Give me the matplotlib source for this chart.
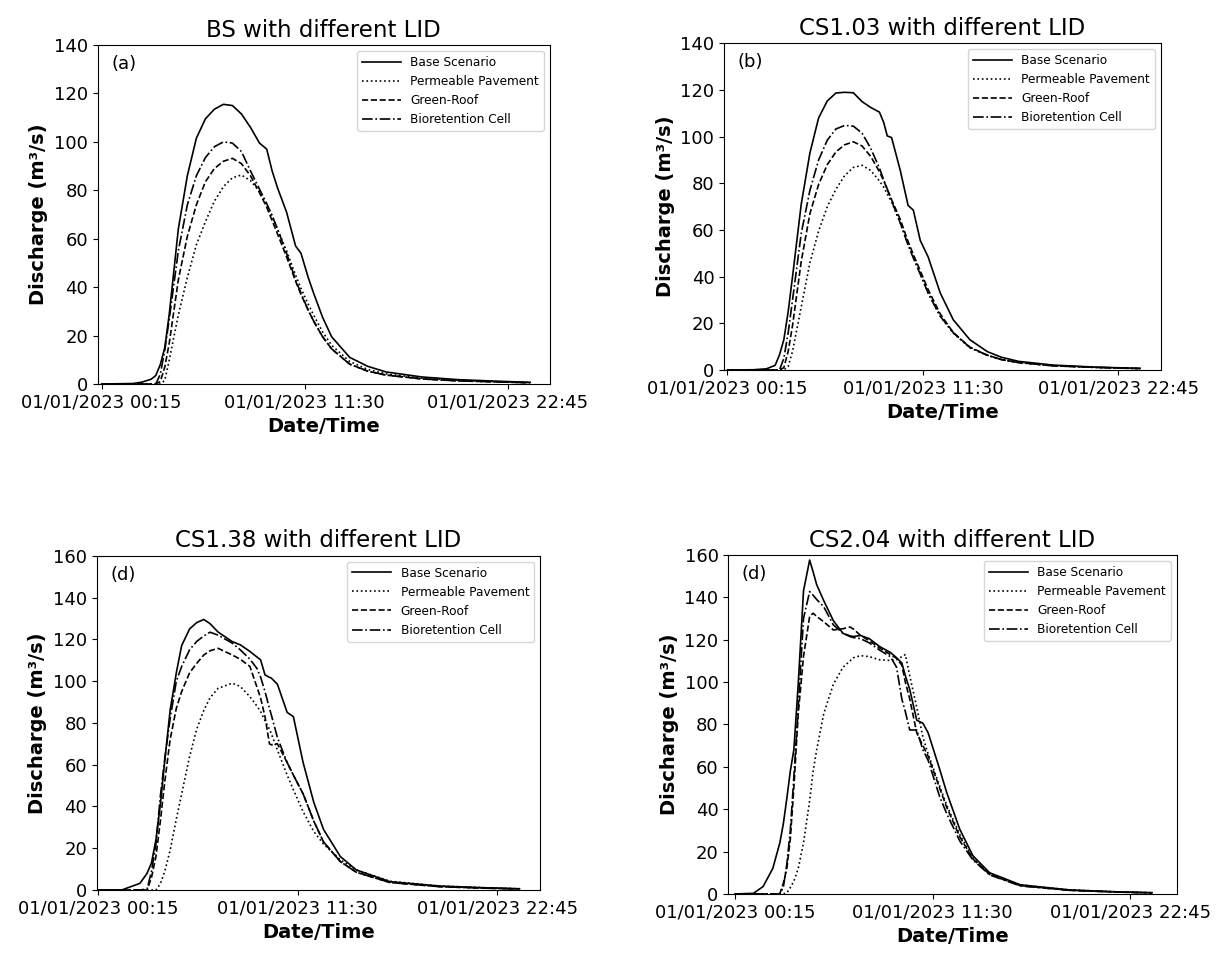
import matplotlib
matplotlib.use("Agg")
import matplotlib.pyplot as plt
import numpy as np

# time in hours from midnight, 01/01/2023
hours_bs = [0.25, 2.0, 2.5, 3.0, 3.25, 3.5, 3.75, 4.0, 4.5, 5.0, 5.5, 6.0, 6.5, 7.0, 7.5, 8.0, 8.5,
            9.0, 9.4, 9.7, 10.0, 10.5, 11.0, 11.3, 11.7, 12.0, 12.5, 13.0, 14.0, 15.0, 16.0, 18.0,
            20.0, 22.0, 24.0]
bs_base = [0, 0.2, 0.8, 2, 3.5, 8, 15, 29, 64, 86, 101.5, 109.5, 113.5, 115.5, 115, 111.5, 106,
           99.5, 97, 88, 81, 71, 57, 54, 44, 37.5, 27.5, 19.5, 11, 7.3, 5, 2.9, 1.8, 1.2, 0.7]
bs_perm = [0, 0, 0, 0, 0, 0, 1.5, 10, 28.5, 44, 57.5, 67, 75.5, 81.5, 85.2, 86.3, 84,
           79.5, 74, 69.5, 64, 55, 45, 39.5, 33, 28.5, 21.5, 16, 9.3, 6, 4.2, 2.4, 1.5, 1.0, 0.6]
bs_green = [0, 0, 0, 0, 0, 1, 7, 17, 43, 61, 74, 83.5, 89, 92, 93.2, 91, 86,
            79, 73, 67.5, 62, 52.5, 42.5, 37, 30.5, 26, 19.5, 14.5, 8.2, 5.3, 3.7, 2.1, 1.3, 0.9, 0.5]
bs_bio = [0, 0, 0, 0, 0, 4, 14, 27, 55, 74, 86, 93.5, 98, 100, 99.5, 96, 88,
          80.5, 74.5, 69.5, 64, 54, 43, 37.5, 30.5, 26, 19.5, 14.5, 8.2, 5.3, 3.7, 2.1, 1.3, 0.9, 0.5]

hours_cs103 = [0.25, 1.75, 2.5, 3.0, 3.25, 3.5, 3.75, 4.0, 4.5, 5.0, 5.5, 6.0, 6.5, 7.0, 7.5, 8.0,
               8.5, 9.0, 9.25, 9.45, 9.7, 10.2, 10.65, 10.95, 11.35, 11.8, 12.5, 13.25, 14.2, 15.2,
               16.0, 17.0, 19.0, 21.5, 24.0]
cs103_base = [0, 0.1, 0.5, 2, 6.5, 13, 25, 40, 71, 93, 108, 115.3, 118.7, 119, 118.8, 115,
              112.5, 110.5, 106, 100.3, 99.6, 85.5, 70.5, 68.5, 55.5, 48.5, 33, 21.5, 13, 7.9,
              5.5, 3.7, 2.1, 1.2, 0.7]
cs103_perm = [0, 0, 0, 0, 0, 0, 1.5, 8, 27, 46, 59.5, 70, 77.5, 83.3, 86.8, 87.7,
              85.5, 81, 78.3, 75.5, 72, 63, 54, 48.5, 41.5, 33, 23, 15.8, 9.5, 6.3,
              4.5, 3.2, 1.8, 1.1, 0.6]
cs103_green = [0, 0, 0, 0, 0, 1, 8, 19, 46.5, 67, 79.5, 88, 93.5, 96.5, 97.8, 96,
               91.5, 85, 81, 77.5, 73, 64.5, 55, 49.5, 42.5, 34.5, 24, 16, 9.8, 6.4,
               4.5, 3.2, 1.8, 1.1, 0.6]
cs103_bio = [0, 0, 0, 0, 0, 5, 16, 30, 58.5, 77, 90, 98.5, 103.3, 104.8, 104.5, 101.5,
             95, 86.5, 81.5, 77.5, 72.5, 63, 53.5, 48, 41, 33, 23, 16, 9.7, 6.3,
             4.5, 3.2, 1.8, 1.1, 0.6]

hours_cs138 = [0.25, 1.6, 2.6, 3.0, 3.25, 3.5, 3.75, 4.0, 4.3, 4.65, 4.95, 5.4, 5.8, 6.2, 6.55,
               7.0, 7.8, 8.25, 8.8, 9.2, 9.4, 9.65, 9.9, 10.0, 10.35, 10.9, 11.25, 11.8, 12.4,
               12.95, 13.9, 14.8, 16.7, 19.5, 22.0, 24.0]
cs138_base = [0, 0.1, 3.2, 8, 13, 24, 41, 62, 86, 104, 117, 125, 128, 129.5, 127.5,
              123.5, 118.9, 117.4, 114.2, 111.5, 110.2, 103, 101.8, 101.5, 98.5, 85, 83, 61, 42,
              29, 16, 9.6, 4, 1.9, 1.1, 0.6]
cs138_perm = [0, 0, 0, 0, 0, 0, 3, 9, 19, 34, 46, 64, 77, 86, 92,
              96.5, 99, 97.5, 92.5, 88, 85.5, 81, 77, 75, 67, 55, 48, 37.5, 28,
              22, 14.4, 9.6, 4.2, 1.9, 1.1, 0.6]
cs138_green = [0, 0, 0, 0, 6, 16, 33, 52, 72, 87, 95, 104, 108.5, 112.5, 114.5,
               115.7, 112.5, 110.5, 107, 97, 92, 83, 70, 69.5, 70, 61, 55, 46, 33,
               23, 13.6, 8.5, 3.6, 1.6, 0.9, 0.5]
cs138_bio = [0, 0, 0, 0.5, 9, 22, 45, 63, 82, 100, 107, 115, 119, 121.6, 123.4,
             122, 118.2, 115, 110.5, 106, 102, 95, 87, 84, 73, 61, 55, 46, 33,
             23, 13.6, 8.5, 3.6, 1.6, 0.9, 0.5]

hours_cs204 = [0.25, 1.3, 1.85, 2.4, 2.8, 3.0, 3.2, 3.4, 3.6, 3.85, 4.15, 4.5, 4.7, 4.9, 5.3,
               5.85, 6.4, 6.8, 7.0, 7.4, 7.9, 8.5, 9.1, 9.45, 9.75, 9.95, 10.2, 10.6, 10.95,
               11.25, 11.9, 12.3, 13.05, 13.8, 14.75, 16.5, 19.3, 22.0, 24.0]
cs204_base = [0, 0.3, 3.5, 12, 24, 33, 45, 58, 68, 99, 143, 157.6, 152, 146, 138.5,
              129, 123, 121.8, 121.5, 122, 120.5, 116.7, 114, 111.5, 109, 103, 96.5, 82, 80.6,
              76, 59, 48, 30.5, 18, 10, 4.3, 1.9, 1.0, 0.6]
cs204_perm = [0, 0, 0, 0, 0, 0, 0.5, 3, 6, 12, 24, 44, 58, 68, 85,
              99, 107, 110, 111.5, 112.5, 112, 110.5, 110.2, 110.5, 112, 113, 103, 88, 74,
              66, 51, 42, 28, 17, 9.5, 4.3, 1.9, 1.0, 0.6]
cs204_green = [0, 0, 0, 0, 0, 5, 12, 26, 50, 85, 112, 131, 132.5, 131, 128.5,
               124.6, 125.2, 126, 125, 122, 119.5, 116, 113, 111.2, 108, 100, 92, 76, 70,
               65, 50, 41, 27, 16.5, 9.2, 3.9, 1.7, 0.9, 0.5]
cs204_bio = [0, 0, 0, 0, 0, 3, 14, 30, 55, 88, 130, 142.7, 141, 139, 135.6,
             127, 123, 121.5, 121, 120.5, 118.5, 115, 112, 107, 92, 86, 77.4, 77.4, 68,
             63, 46, 38, 25, 16, 9, 3.8, 1.7, 0.9, 0.5]

series_names = ['Base Scenario', 'Permeable Pavement', 'Green-Roof', 'Bioretention Cell']
line_styles = ['-', ':', '--', '-.']
tick_hours = [0.25, 11.5, 22.75]
tick_labels = ['01/01/2023 00:15', '01/01/2023 11:30', '01/01/2023 22:45']

panels = [
    dict(title='BS with different LID', tag='(a)', t=hours_bs,
         ys=[bs_base, bs_perm, bs_green, bs_bio], ymax=140,
         pos=[0.0800, 0.6000, 0.3704, 0.3531], xlim=(0.03, 25.1)),
    dict(title='CS1.03 with different LID', tag='(b)', t=hours_cs103,
         ys=[cs103_base, cs103_perm, cs103_green, cs103_bio], ymax=140,
         pos=[0.5930, 0.6146, 0.3577, 0.3403], xlim=(0.06, 25.19)),
    dict(title='CS1.38 with different LID', tag='(d)', t=hours_cs138,
         ys=[cs138_base, cs138_perm, cs138_green, cs138_bio], ymax=160,
         pos=[0.0792, 0.0729, 0.3631, 0.3482], xlim=(0.16, 25.16)),
    dict(title='CS2.04 with different LID', tag='(d)', t=hours_cs204,
         ys=[cs204_base, cs204_perm, cs204_green, cs204_bio], ymax=160,
         pos=[0.5965, 0.0688, 0.3672, 0.3531], xlim=(-0.13, 25.4)),
]

fig = plt.figure(figsize=(12.21, 9.6), dpi=100)

for p in panels:
    ax = fig.add_axes(p['pos'])
    for y, name, ls in zip(p['ys'], series_names, line_styles):
        ax.plot(p['t'], y, color='black', linestyle=ls, linewidth=1.2, label=name)
    ax.set_xlim(*p['xlim'])
    ax.set_ylim(0, p['ymax'])
    ax.set_yticks(np.arange(0, p['ymax'] + 1, 20))
    ax.set_xticks(tick_hours)
    ax.set_xticklabels(tick_labels)
    ax.tick_params(labelsize=13)
    ax.set_title(p['title'], fontsize=16.5)
    ax.set_xlabel('Date/Time', fontsize=14, fontweight='bold')
    ax.set_ylabel('Discharge (m³/s)', fontsize=14, fontweight='bold')
    ax.text(0.03, 0.97, p['tag'], transform=ax.transAxes, fontsize=13, va='top', ha='left')
    ax.legend(loc='upper right', fontsize=8.7, handlelength=3.2)

fig.savefig('out.png', dpi=100)
